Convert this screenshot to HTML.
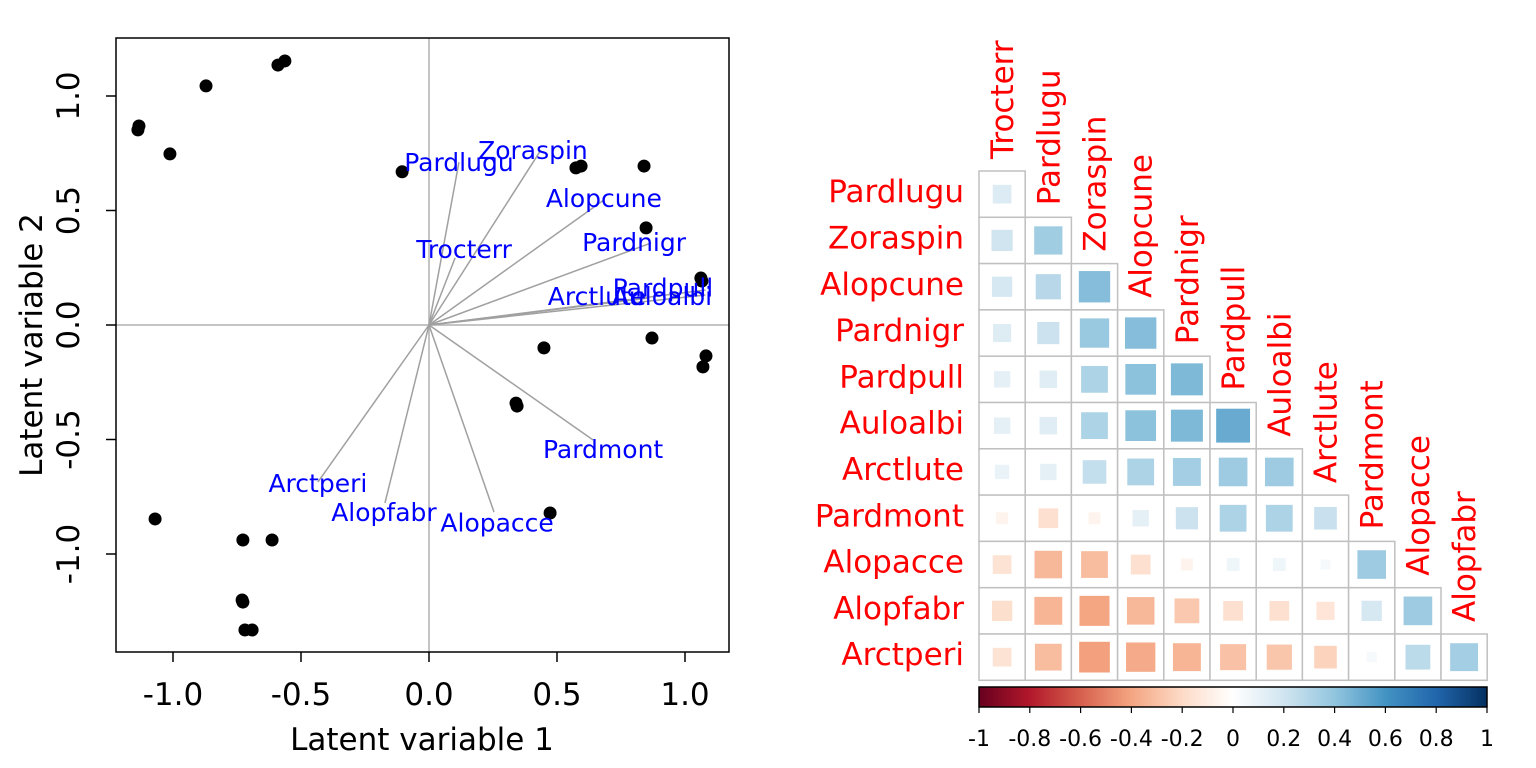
<!DOCTYPE html>
<html><head><meta charset="utf-8"><style>
html,body{margin:0;padding:0;background:#fff;}
svg{display:block;font-family:"DejaVu Sans","Liberation Sans",sans-serif;}
</style></head><body>
<svg id="fig" width="1536" height="768" viewBox="0 0 1536 768" xmlns="http://www.w3.org/2000/svg">
<g id="left"></g>
<g id="right"></g>
</svg>
<script>
// ---- Biplot data ----
const ptX = [-1.137,-1.133,-1.012,-0.871,-0.590,-0.563,-0.105,0.574,0.594,0.840,0.848,1.062,1.066,0.871,1.082,1.070,0.449,0.340,0.344,0.473,-1.070,-0.727,-0.613,-0.727,-0.730,-0.719,-0.691];
const ptY = [0.852,0.869,0.747,1.044,1.135,1.153,0.669,0.686,0.694,0.694,0.424,0.205,0.192,-0.057,-0.135,-0.183,-0.100,-0.341,-0.354,-0.821,-0.847,-0.939,-0.939,-1.210,-1.201,-1.332,-1.332];
const spNames = ["Pardlugu","Zoraspin","Alopcune","Trocterr","Pardnigr","Arctlute","Pardpull","Auloalbi","Pardmont","Arctperi","Alopfabr","Alopacce"];
const arrX = [0.117,0.437,0.683,0.102,0.867,0.859,1.080,1.080,0.641,-0.434,-0.172,0.254];
const arrY = [0.711,0.764,0.546,0.293,0.358,0.118,0.153,0.131,-0.502,-0.686,-0.777,-0.817];
const lblX = [0.117,0.406,0.683,0.137,0.801,0.656,0.914,0.910,0.680,-0.434,-0.176,0.266];
const lblY = [0.711,0.764,0.555,0.332,0.363,0.127,0.163,0.127,-0.542,-0.690,-0.817,-0.862];
const xTicks = [-1.0,-0.5,0.0,0.5,1.0];
const yTicks = [1.0,0.5,0.0,-0.5,-1.0];
const xTickLabels = ["-1.0","-0.5","0.0","0.5","1.0"];
const yTickLabels = ["1.0","0.5","0.0","-0.5","-1.0"];

// ---- Correlation data ----
const rowNames = ["Pardlugu","Zoraspin","Alopcune","Pardnigr","Pardpull","Auloalbi","Arctlute","Pardmont","Alopacce","Alopfabr","Arctperi"];
const colNames = ["Trocterr","Pardlugu","Zoraspin","Alopcune","Pardnigr","Pardpull","Auloalbi","Arctlute","Pardmont","Alopacce","Alopfabr"];
const corrRows = [
 [0.17],
 [0.22,0.39],
 [0.20,0.31,0.48],
 [0.16,0.24,0.42,0.48],
 [0.13,0.15,0.35,0.46,0.50],
 [0.13,0.15,0.35,0.46,0.50,0.56],
 [0.10,0.13,0.27,0.35,0.38,0.40,0.40],
 [-0.07,-0.19,-0.07,0.13,0.24,0.35,0.35,0.25],
 [-0.17,-0.37,-0.35,-0.19,-0.07,0.08,0.08,0.05,0.40],
 [-0.20,-0.38,-0.44,-0.37,-0.30,-0.19,-0.19,-0.16,0.20,0.40],
 [-0.17,-0.35,-0.46,-0.42,-0.38,-0.33,-0.31,-0.25,0.05,0.30,0.38]
];
const cbTicks = [-1,-0.8,-0.6,-0.4,-0.2,0,0.2,0.4,0.6,0.8,1];

const NS="http://www.w3.org/2000/svg";
function mk(parent,tag,attrs,text){const e=document.createElementNS(NS,tag);for(const k in attrs)e.setAttribute(k,attrs[k]);if(text!==undefined)e.textContent=text;parent.appendChild(e);return e;}

const sx=v=>429+256*v, sy=v=>325-229*v;
const L=document.getElementById('left');
let e;
e=mk(L,'line',{x1:sx(0),y1:38,x2:sx(0),y2:652,stroke:'#b0b0b0','stroke-width':1.5});

e=mk(L,'line',{x1:116,y1:sy(0),x2:729,y2:sy(0),stroke:'#b0b0b0','stroke-width':1.5});

e=mk(L,'rect',{x:116,y:38,width:613,height:614,fill:'none',stroke:'#000','stroke-width':1.5});

xTicks.forEach((t,i)=>{
 e=mk(L,'line',{x1:sx(t),y1:652,x2:sx(t),y2:662,stroke:'#000','stroke-width':1.5});
 
 e=mk(L,'text',{x:sx(t),y:705,'font-size':31,'text-anchor':'middle'},xTickLabels[i]);
 
});
yTicks.forEach((t,i)=>{
 e=mk(L,'line',{x1:106,y1:sy(t),x2:116,y2:sy(t),stroke:'#000','stroke-width':1.5});
 
 e=mk(L,'text',{x:0,y:0,'font-size':31,'text-anchor':'middle',transform:`translate(79,${sy(t)}) rotate(-90)`},yTickLabels[i]);
 
});
e=mk(L,'text',{x:422,y:750,'font-size':31,'text-anchor':'middle'},'Latent variable 1');

e=mk(L,'text',{x:0,y:0,'font-size':31,'text-anchor':'middle',transform:'translate(42,345) rotate(-90)'},'Latent variable 2');

spNames.forEach((n,i)=>{
 e=mk(L,'line',{x1:sx(0),y1:sy(0),x2:sx(arrX[i]),y2:sy(arrY[i]),stroke:'#a0a0a0','stroke-width':1.5});
 
});
ptX.forEach((x,i)=>{
 e=mk(L,'circle',{cx:sx(x),cy:sy(ptY[i]),r:6.5,fill:'#000'});
 
});
spNames.forEach((n,i)=>{
 e=mk(L,'text',{x:sx(lblX[i]),y:sy(lblY[i])+9,'font-size':25,'text-anchor':'middle',fill:'#0000ff'},n);
 
});

// ---- corrplot ----
const R=document.getElementById('right');
const stops=[[-1,[103,0,31]],[-0.8,[178,24,43]],[-0.6,[214,96,77]],[-0.4,[244,165,130]],[-0.2,[253,219,199]],[0,[255,255,255]],[0.2,[209,229,240]],[0.4,[146,197,222]],[0.6,[67,147,195]],[0.8,[33,102,172]],[1,[5,48,97]]];
function col(v){for(let i=0;i<stops.length-1;i++){const a=stops[i],b=stops[i+1];if(v>=a[0]&&v<=b[0]){const t=(v-a[0])/(b[0]-a[0]);const c=a[1].map((x,k)=>Math.round(x+(b[1][k]-x)*t));return `rgb(${c.join(',')})`;}}return '#fff';}
const cx0=979, cy0=171, cw=46.2, ch=46.3;
corrRows.forEach((row,i)=>{
 row.forEach((v,j)=>{
  const x=cx0+j*cw, y=cy0+i*ch;
  e=mk(R,'rect',{x:x,y:y,width:cw,height:ch,fill:'#fff',stroke:'#c0c0c0','stroke-width':1.5});
  
  const s=Math.sqrt(Math.abs(v))*cw*0.98;
  e=mk(R,'rect',{x:x+cw/2-s/2,y:y+ch/2-s/2,width:s,height:s,fill:col(v*0.9)});
  
 });
});
rowNames.forEach((n,i)=>{
 e=mk(R,'text',{x:964,y:cy0+i*ch+ch/2+8,'font-size':31,'text-anchor':'end',fill:'#ff0000'},n);
 
});
colNames.forEach((n,j)=>{
 const x=cx0+j*cw+cw/2+11, y=cy0+j*ch-12;
 e=mk(R,'text',{x:0,y:0,'font-size':31,'text-anchor':'start',fill:'#ff0000',transform:`translate(${x},${y}) rotate(-90)`},n);
 
});
const cbx0=979,cbx1=1487,cby=687,cbh=20;
const defs=mk(R,'defs',{});
const g=mk(defs,'linearGradient',{id:'cbg',x1:0,x2:1,y1:0,y2:0});
stops.forEach(s=>mk(g,'stop',{offset:((s[0]+1)/2),'stop-color':col(s[0])}));
e=mk(R,'rect',{x:cbx0,y:cby,width:cbx1-cbx0,height:cbh,fill:'url(#cbg)',stroke:'#000','stroke-width':1.5});

const cbs=v=>cbx0+(v+1)/2*(cbx1-cbx0);
cbTicks.forEach(t=>{
 e=mk(R,'line',{x1:cbs(t),y1:cby+cbh,x2:cbs(t),y2:cby+cbh+6,stroke:'#000','stroke-width':1.2});
 
 e=mk(R,'text',{x:cbs(t),y:746,'font-size':22,'text-anchor':'middle'},String(t));
 
});
</script>
</body></html>
